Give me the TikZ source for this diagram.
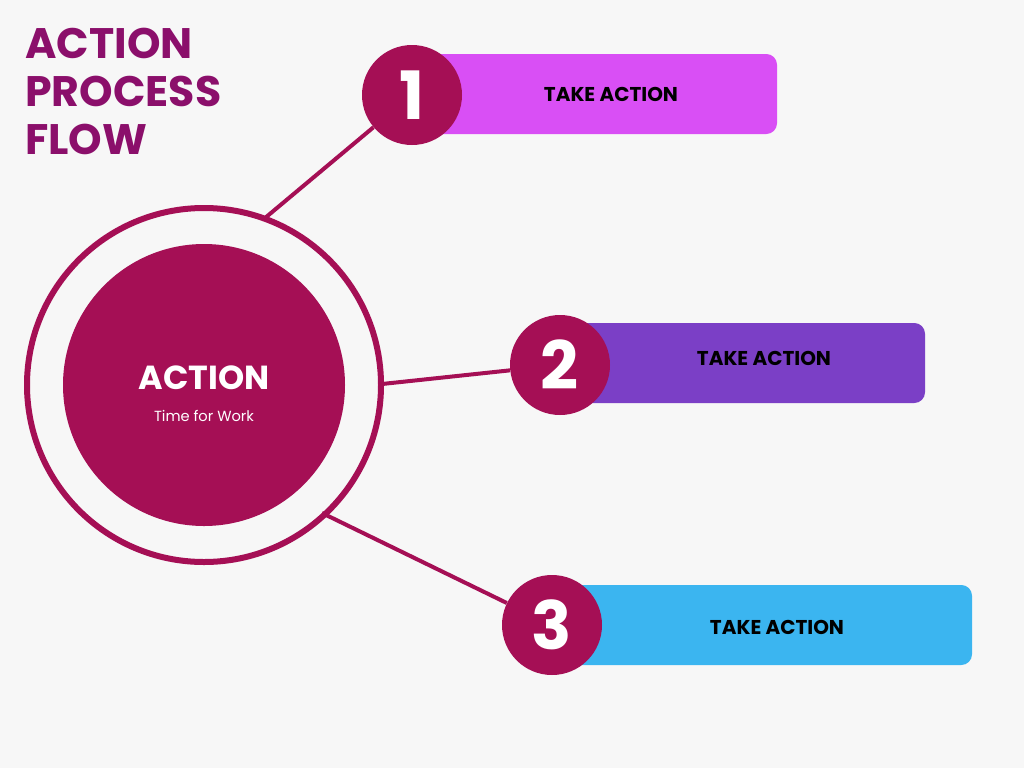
\documentclass[tikz,border=0pt]{standalone}
\usepackage{fontspec}
\setmainfont{Poppins}
\definecolor{bg}{HTML}{F7F7F7}
\definecolor{wine}{HTML}{A50F55}
\definecolor{ttl}{HTML}{8B0F6B}
\definecolor{c1}{HTML}{D94FF5}
\definecolor{c2}{HTML}{7B3FC6}
\definecolor{c3}{HTML}{3BB5F0}
\begin{document}
\begin{tikzpicture}[x=0.75pt,y=-0.75pt,
  num/.style={circle,fill=wine,minimum size=75pt,inner sep=0pt,text=white,font=\bfseries\fontsize{50}{50}\selectfont},
  lbl/.style={font=\bfseries\fontsize{15}{15}\selectfont,text=black},
  conn/.style={wine,line width=3pt}]
\fill[bg] (0,0) rectangle (1024,768);
\useasboundingbox (0,0) rectangle (1024,768);
\node[anchor=north west,text=ttl,font=\bfseries\fontsize{32}{36}\selectfont,align=left,inner sep=0pt] (title) at (25,28) {ACTION\\PROCESS\\FLOW};
\draw[wine,line width=4.5pt] (204,385) circle[radius=177];
\fill[wine] (204,385) circle[radius=141];
\node[text=white,font=\bfseries\fontsize{25}{25}\selectfont] (act) at (204,378) {ACTION};
\node[text=white,font=\fontsize{11}{11}\selectfont] (sub) at (204,416) {Time for Work};
\coordinate (r1) at (265,218);
\coordinate (r2) at (382,384);
\coordinate (r3) at (322,513);
\fill[c1,rounded corners=8pt] (420,54) rectangle (777,134);
\fill[c2,rounded corners=8pt] (570,323) rectangle (925,403);
\fill[c3,rounded corners=8pt] (570,585) rectangle (972,665);
\node[lbl] (t1) at (611,94) {TAKE ACTION};
\node[lbl] (t2) at (764,358) {TAKE ACTION};
\node[lbl] (t3) at (777,627) {TAKE ACTION};
\node[num] (n1) at (412,95) {1};
\node[num] (n2) at (560,365) {2};
\node[num] (n3) at (552,625) {3};
\draw[conn] (r1) -- (n1);
\draw[conn] (r2) -- (n2);
\draw[conn] (r3) -- (n3);
\end{tikzpicture}
\end{document}
